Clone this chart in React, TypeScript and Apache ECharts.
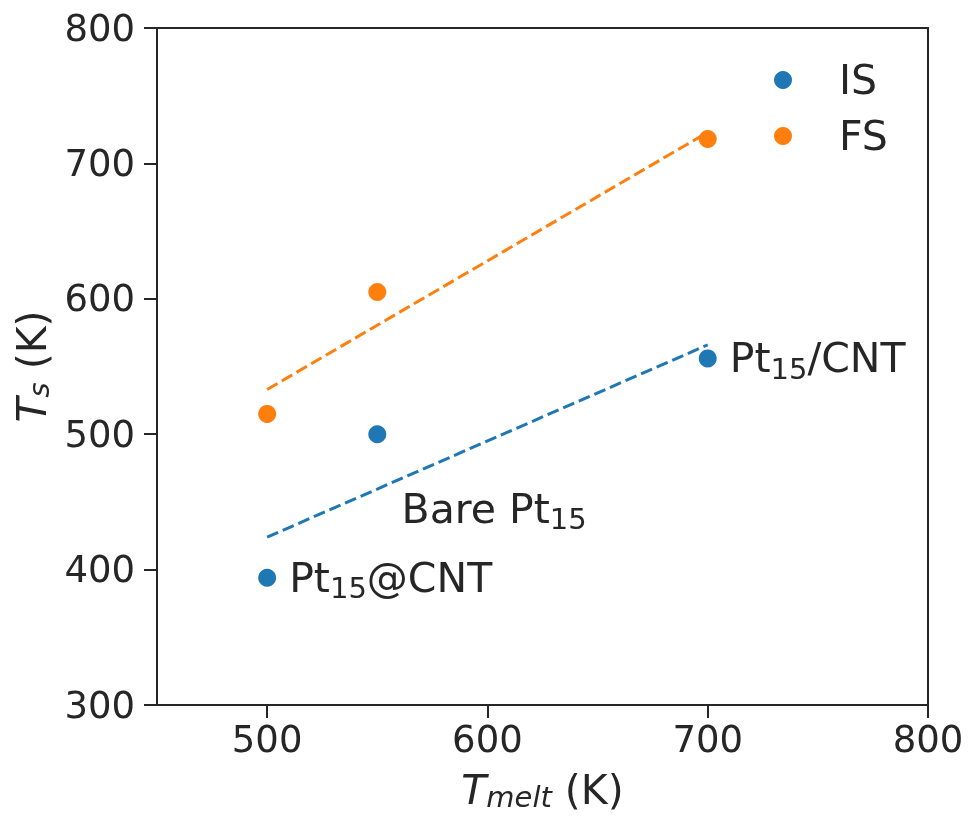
import React, { useEffect, useRef } from "react";
import * as echarts from "echarts";

const meltX = [500, 550, 700];
const isValues = [394, 500, 556];
const fsValues = [515, 605, 718];
const fitX = [500, 700];
const isFit = [424, 566];
const fsFit = [533, 723];
const xTicks = [500, 600, 700, 800];
const yTicks = [300, 400, 500, 600, 700, 800];
const annotX = [500, 561, 700];
const annotY = [394, 445, 556];
const annotText = ["Pt{sub|15}@CNT", "Bare Pt{sub|15}", "Pt{sub|15}/CNT"];

const FONT = "DejaVu Sans";
const INK = "#262626";
const BLUE = "#1f77b4";
const ORANGE = "#ff7f0e";
const BIG = 41;
const SMALL = 29;
const TICKF = 37;

export default function App() {
  const ref = useRef<HTMLDivElement>(null);
  useEffect(() => {
    if (!ref.current) return;
    const chart = echarts.init(ref.current, null, { renderer: "svg" });
    const richText = {
      base: { fontSize: BIG, fontFamily: FONT, color: INK, lineHeight: 50 },
      sub: { fontSize: SMALL, fontFamily: FONT, color: INK, lineHeight: 50, verticalAlign: "bottom" },
    };
    const nameRich = {
      it: { fontSize: BIG, fontFamily: FONT, fontStyle: "italic", color: INK, lineHeight: 42 },
      its: { fontSize: SMALL, fontFamily: FONT, fontStyle: "italic", color: INK, lineHeight: 42, verticalAlign: "bottom" },
      base: { fontSize: BIG, fontFamily: FONT, color: INK, lineHeight: 42 },
    };
    const axisCommon = {
      axisLine: { show: true, lineStyle: { color: INK, width: 2 } },
      splitLine: { show: false },
    };
    chart.setOption({
      animation: false,
      textStyle: { fontFamily: FONT, color: INK },
      grid: {
        left: 157,
        top: 28,
        right: 40,
        bottom: 112,
        containLabel: false,
        outerBoundsMode: "none",
      },
      legend: {
        data: ["IS", "FS"],
        orient: "vertical",
        left: 769,
        top: 50,
        itemWidth: 18,
        itemHeight: 18,
        itemGap: 6,
        icon: "circle",
        textStyle: {
          fontSize: BIG,
          fontFamily: FONT,
          color: INK,
          lineHeight: 50,
          padding: [0, 0, 0, 42],
        },
      },
      xAxis: [
        {
          type: "value",
          min: 450,
          max: 800,
          ...axisCommon,
          axisTick: {
            show: true,
            length: 13,
            lineStyle: { color: INK, width: 2 },
            customValues: xTicks,
          },
          axisLabel: {
            fontSize: TICKF,
            fontFamily: FONT,
            color: INK,
            margin: 16,
            customValues: xTicks,
          },
          name: "{it|T}{its|melt}{base| (K)}",
          nameLocation: "middle",
          nameGap: 64,
          nameTextStyle: { rich: nameRich },
        },
        {
          type: "value",
          position: "top",
          min: 450,
          max: 800,
          ...axisCommon,
          axisTick: { show: false },
          axisLabel: { show: false },
        },
      ],
      yAxis: [
        {
          type: "value",
          min: 300,
          max: 800,
          interval: 100,
          ...axisCommon,
          axisTick: {
            show: true,
            length: 13,
            lineStyle: { color: INK, width: 2 },
            customValues: yTicks,
          },
          axisLabel: {
            fontSize: TICKF,
            fontFamily: FONT,
            color: INK,
            margin: 22,
            customValues: yTicks,
          },
          name: "{it|T}{its|s}{base| (K)}",
          nameLocation: "middle",
          nameGap: 100,
          nameRotate: 90,
          nameTextStyle: { rich: nameRich },
        },
        {
          type: "value",
          position: "right",
          min: 300,
          max: 800,
          interval: 100,
          ...axisCommon,
          axisTick: { show: false },
          axisLabel: { show: false },
        },
      ],
      series: [
        {
          name: "IS",
          type: "scatter",
          symbol: "circle",
          symbolSize: 18,
          itemStyle: { color: BLUE, opacity: 1 },
          data: meltX.map((x, i) => [x, isValues[i]]),
          z: 3,
        },
        {
          name: "FS",
          type: "scatter",
          symbol: "circle",
          symbolSize: 18,
          itemStyle: { color: ORANGE, opacity: 1 },
          data: meltX.map((x, i) => [x, fsValues[i]]),
          z: 3,
        },
        {
          name: "IS fit",
          type: "line",
          showSymbol: false,
          symbol: "none",
          lineStyle: { color: BLUE, width: 3, type: [12, 5] },
          data: fitX.map((x, i) => [x, isFit[i]]),
          z: 4,
        },
        {
          name: "FS fit",
          type: "line",
          showSymbol: false,
          symbol: "none",
          lineStyle: { color: ORANGE, width: 3, type: [12, 5] },
          data: fitX.map((x, i) => [x, fsFit[i]]),
          z: 4,
        },
        {
          name: "labels",
          type: "scatter",
          symbolSize: 0,
          silent: true,
          itemStyle: { opacity: 1 },
          data: annotX.map((x, i) => ({
            value: [x, annotY[i]],
            label: {
              show: true,
              position: "right",
              distance: i === 1 ? 0 : 22,
              formatter: annotText[i].replace(/^([^{]+)/, "{base|$1}").replace(/\}([^{]+)$/, "}{base|$1}"),
              rich: richText,
            },
          })),
        },
      ],
    });
    return () => chart.dispose();
  }, []);
  return (
    <div
      ref={ref}
      style={{ position: "fixed", left: 0, top: 0, width: 968, height: 817 }}
    />
  );
}
